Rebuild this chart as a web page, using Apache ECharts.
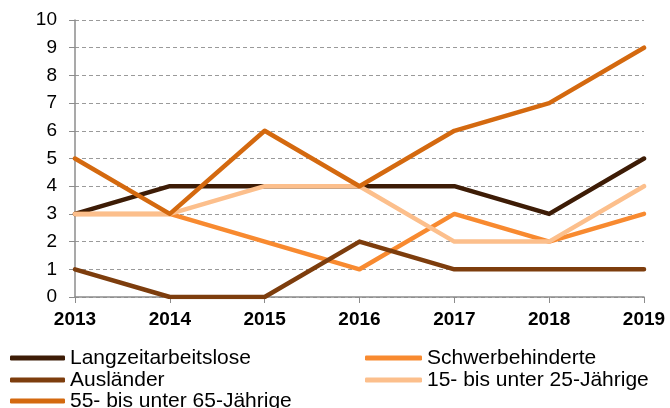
<!DOCTYPE html>
<html>
<head>
<meta charset="utf-8">
<script src="https://cdn.jsdelivr.net/npm/echarts@6/dist/echarts.min.js"></script>
<style>
  html, body { margin: 0; padding: 0; background: #fff; }
  #chart { width: 670px; height: 408px; }
</style>
</head>
<body>
<div id="chart"></div>
<script>
// Jahre und Werte
const years = ['2013', '2014', '2015', '2016', '2017', '2018', '2019'];
const langzeit = [3, 4, 4, 4, 4, 3, 5];
const schwer = [3, 3, 2, 1, 3, 2, 3];
const auslaender = [1, 0, 0, 2, 1, 1, 1];
const jung = [3, 3, 4, 4, 2, 2, 4];
const alt = [5, 3, 6, 4, 6, 7, 9];

const names = [
  'Langzeitarbeitslose',
  'Schwerbehinderte',
  'Ausländer',
  '15- bis unter 25-Jährige',
  '55- bis unter 65-Jährige',
];
const colors = ['#3d1c06', '#f88a30', '#7d3d0d', '#fcbf8c', '#d4690f'];
const values = [langzeit, schwer, auslaender, jung, alt];

const font = '"Liberation Sans", Arial, sans-serif';

// Legendenplätze: [left, top] je Eintrag, wie in der Vorlage in zwei Spalten
const legendPos = [[10, 347], [365, 347], [10, 369], [365, 369], [10, 390]];

const chart = echarts.init(document.getElementById('chart'));
chart.setOption({
  animation: false,
  color: colors,
  grid: { left: 75, right: 26, top: 20, bottom: 111 },
  legend: names.map((n, i) => ({
    left: legendPos[i][0],
    top: legendPos[i][1],
    padding: 0,
    data: [n],
    itemWidth: i % 2 ? 57 : 55,
    itemHeight: 5,
    icon: 'roundRect',
    textStyle: { fontFamily: font, fontSize: 21, color: '#000', lineHeight: 22 },
  })),
  xAxis: {
    type: 'category',
    data: years,
    boundaryGap: false,
    axisLine: { lineStyle: { color: '#8c8c8c', width: 1.5 } },
    axisTick: { alignWithLabel: true, length: 6, lineStyle: { color: '#8c8c8c' } },
    axisLabel: { fontFamily: font, fontSize: 19, fontWeight: 'bold', color: '#000', margin: 13 },
  },
  yAxis: {
    type: 'value',
    min: 0,
    max: 10,
    interval: 1,
    axisLine: { show: true, lineStyle: { color: '#8c8c8c', width: 1.5 } },
    axisTick: { show: true, length: 6, lineStyle: { color: '#8c8c8c' } },
    axisLabel: { fontFamily: font, fontSize: 19, color: '#000', margin: 18 },
    splitLine: { lineStyle: { color: '#9a9a9a', type: [4, 3], width: 1 } },
  },
  series: names.map((n, i) => ({
    name: n,
    type: 'line',
    data: values[i],
    symbol: 'none',
    lineStyle: { width: 4.5, color: colors[i], join: 'round', cap: 'round' },
  })),
});
</script>
</body>
</html>
